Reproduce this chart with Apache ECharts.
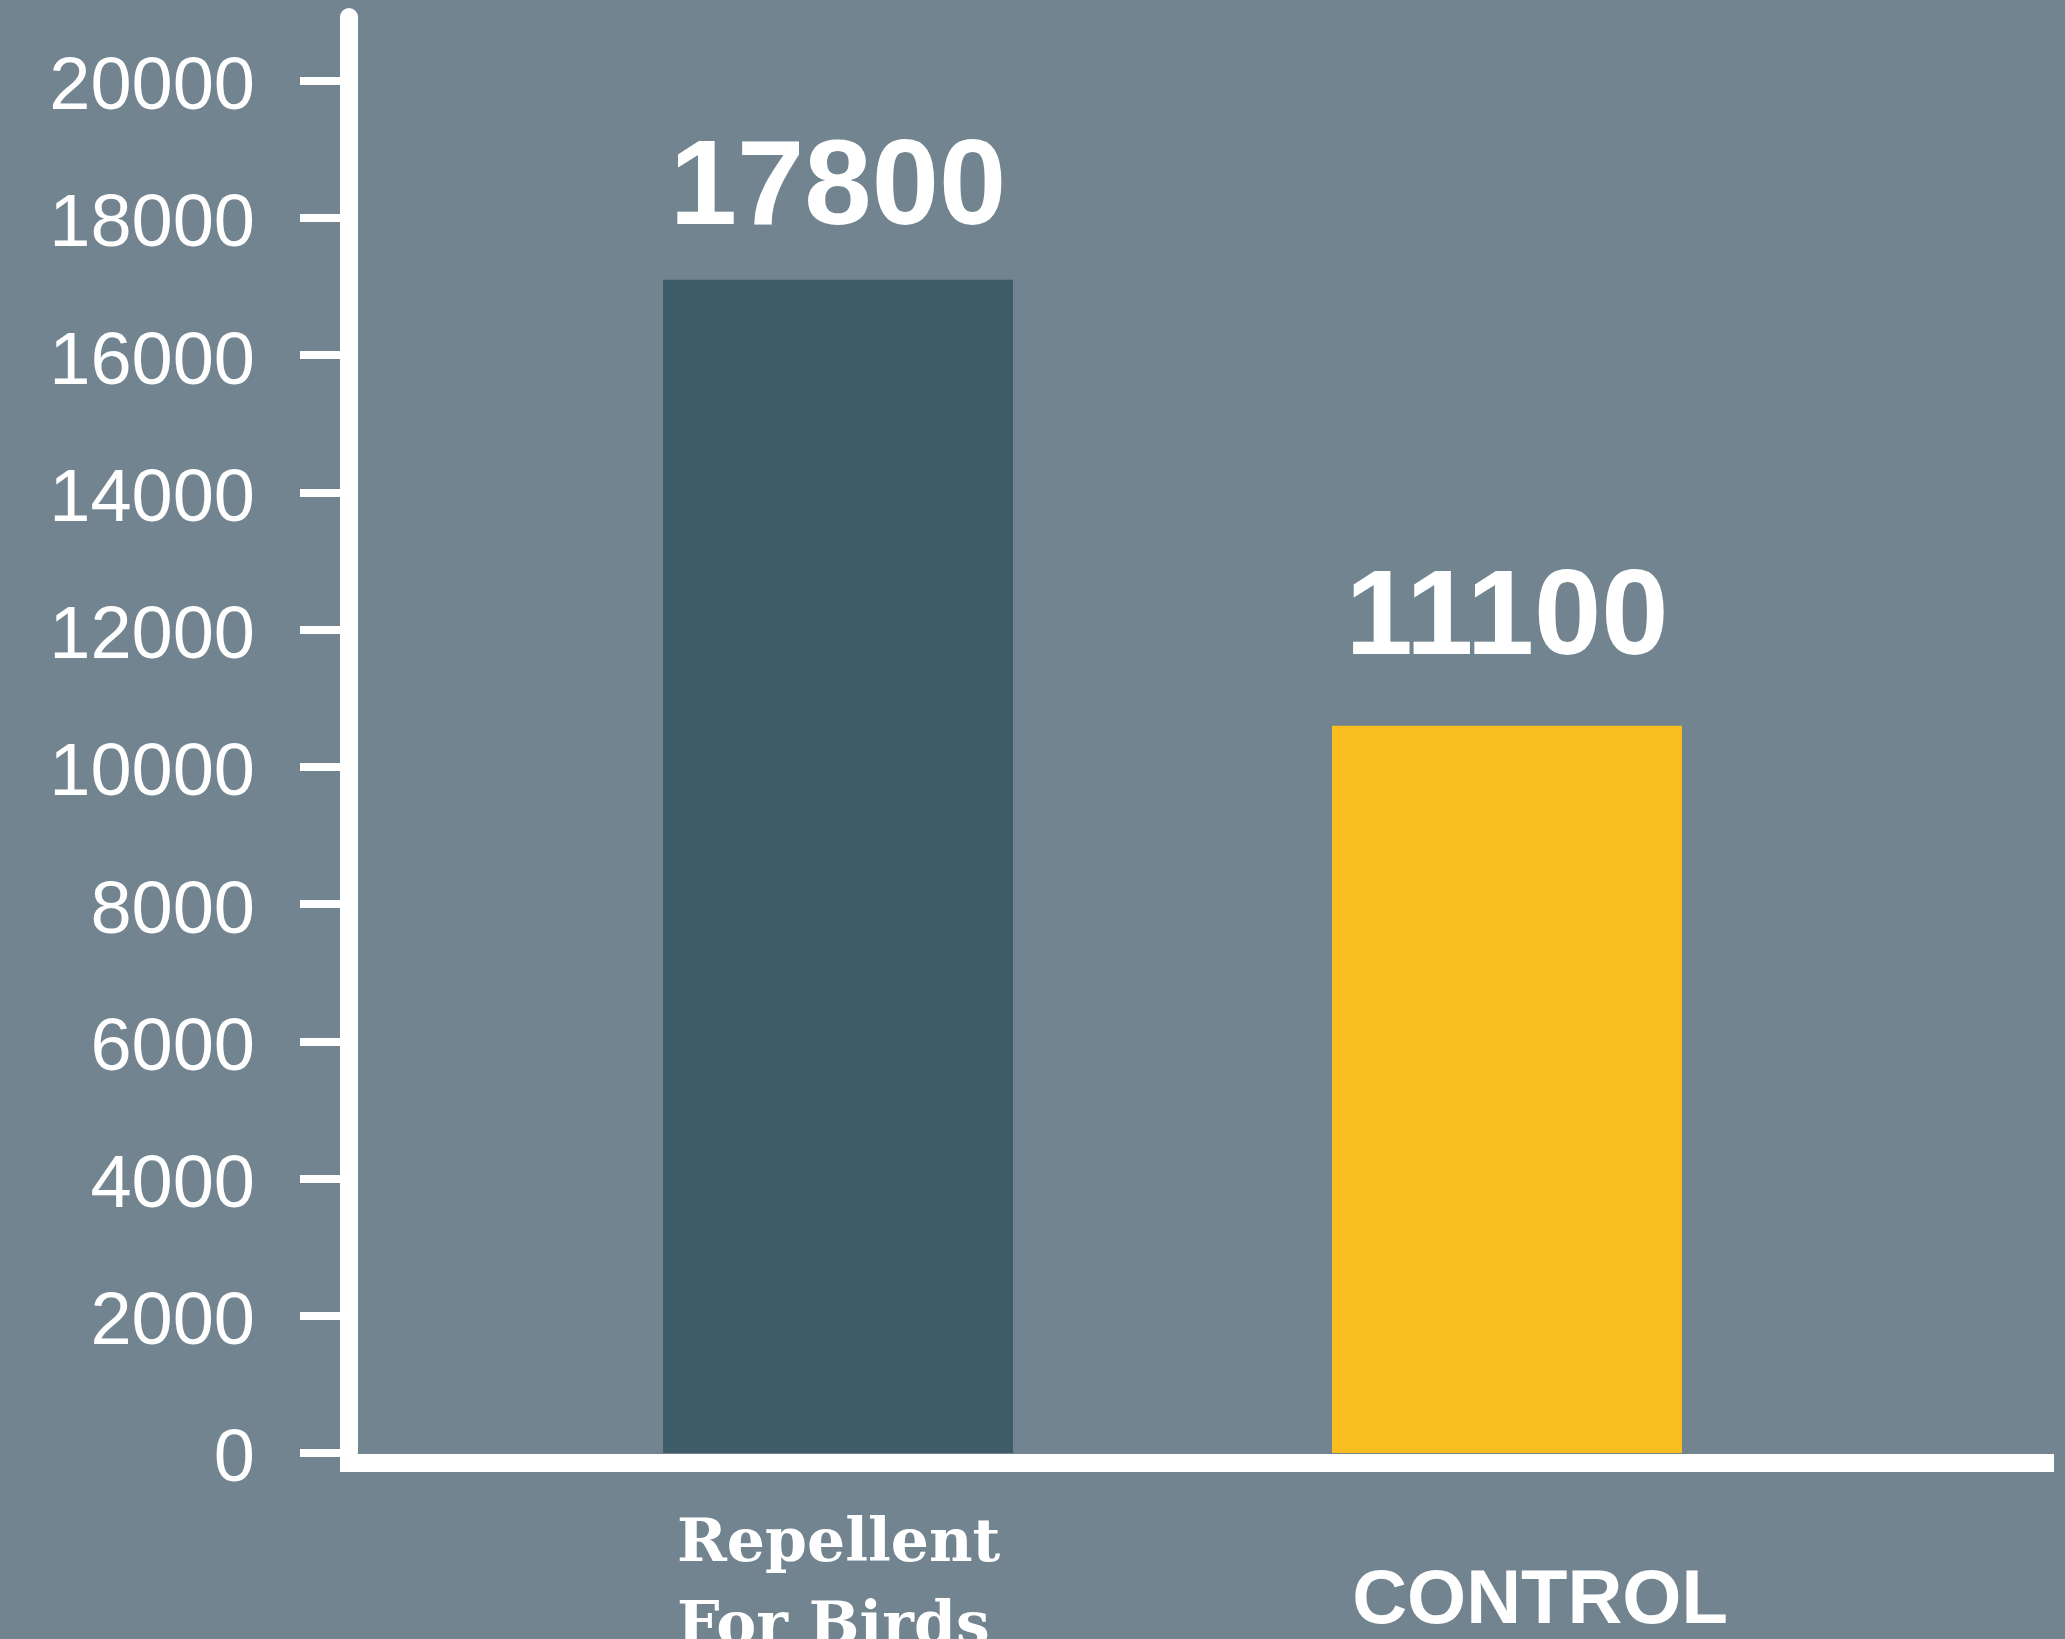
<!DOCTYPE html>
<html>
<head>
<meta charset="utf-8">
<script src="https://cdn.jsdelivr.net/npm/echarts@6/dist/echarts.min.js"></script>
<style>
  html, body { margin: 0; padding: 0; background: #71848f; }
  #main { width: 2065px; height: 1639px; }
</style>
</head>
<body>
<div id="main"></div>
<script>
  // data
  var categories = ['Repellent\nFor Birds', 'CONTROL'];
  var barValues = [17100, 10600];
  var valueLabels = ['17800', '11100'];
  var yTicks = [0, 2000, 4000, 6000, 8000, 10000, 12000, 14000, 16000, 18000, 20000];
  var barColors = ['#3e5c68', '#f8bd1f'];

  var yMax = 20930;

  var option = {
    backgroundColor: '#71848f',
    animation: false,
    grid: [
      // axes frame
      { left: 349, right: 20, top: 17, bottom: 186, outerBoundsMode: 'none' },
      // bars
      { left: 503.5, right: 223.5, top: 17, bottom: 186, outerBoundsMode: 'none' }
    ],
    xAxis: [{
      gridIndex: 0,
      type: 'value',
      offset: 10,
      axisLine: { show: true, onZero: false, lineStyle: { color: '#fff', width: 18, cap: 'square' } },
      axisTick: { show: false },
      axisLabel: { show: false },
      splitLine: { show: false }
    }, {
      gridIndex: 1,
      type: 'category',
      data: categories,
      axisLine: { show: false },
      axisTick: { show: false },
      axisLabel: {
        margin: 51,
        color: '#fff',
        formatter: function (value, idx) {
          if (idx === 0) {
            return value.split('\n').map(function (s) { return '{a|' + s + '}'; }).join('\n');
          }
          return '{b|' + value + '}';
        },
        rich: {
          a: { fontFamily: 'DejaVu Serif', fontWeight: 'bold', fontSize: 60, lineHeight: 83, color: '#fff', width: 322, align: 'left' },
          b: { fontFamily: 'Liberation Sans', fontWeight: 'bold', fontSize: 76, lineHeight: 76, color: '#fff', padding: [120, 0, 0, 66] }
        }
      }
    }],
    yAxis: [{
      gridIndex: 0,
      type: 'value',
      min: 0,
      max: yMax,
      axisLine: { show: true, lineStyle: { color: '#fff', width: 18 } },
      axisTick: { show: true, length: 49, customValues: yTicks, lineStyle: { color: '#fff', width: 8 } },
      axisLabel: {
        customValues: yTicks,
        margin: 94,
        color: '#fff',
        formatter: function (v) { return '{v|' + v + '}'; },
        rich: {
          v: { fontFamily: 'Liberation Sans', fontSize: 74, color: '#fff', padding: [16, 0, 0, 0] }
        }
      },
      splitLine: { show: false }
    }, {
      gridIndex: 1,
      type: 'value',
      min: 0,
      max: yMax,
      show: false
    }],
    series: [{
      type: 'bar',
      xAxisIndex: 1,
      yAxisIndex: 1,
      barWidth: 350,
      data: [
        { value: barValues[0], itemStyle: { color: barColors[0] }, label: { distance: 29 } },
        { value: barValues[1], itemStyle: { color: barColors[1] }, label: { distance: 45 } }
      ],
      label: {
        show: true,
        position: 'top',
        color: '#fff',
        fontFamily: 'Liberation Sans',
        fontWeight: 'bold',
        fontSize: 121,
        formatter: function (p) { return valueLabels[p.dataIndex]; }
      }
    }]
  };

  var myChart = echarts.init(document.getElementById('main'));
  myChart.setOption(option);
  window.addEventListener('resize', function () {
    myChart.resize();
  });
</script>
</body>
</html>
